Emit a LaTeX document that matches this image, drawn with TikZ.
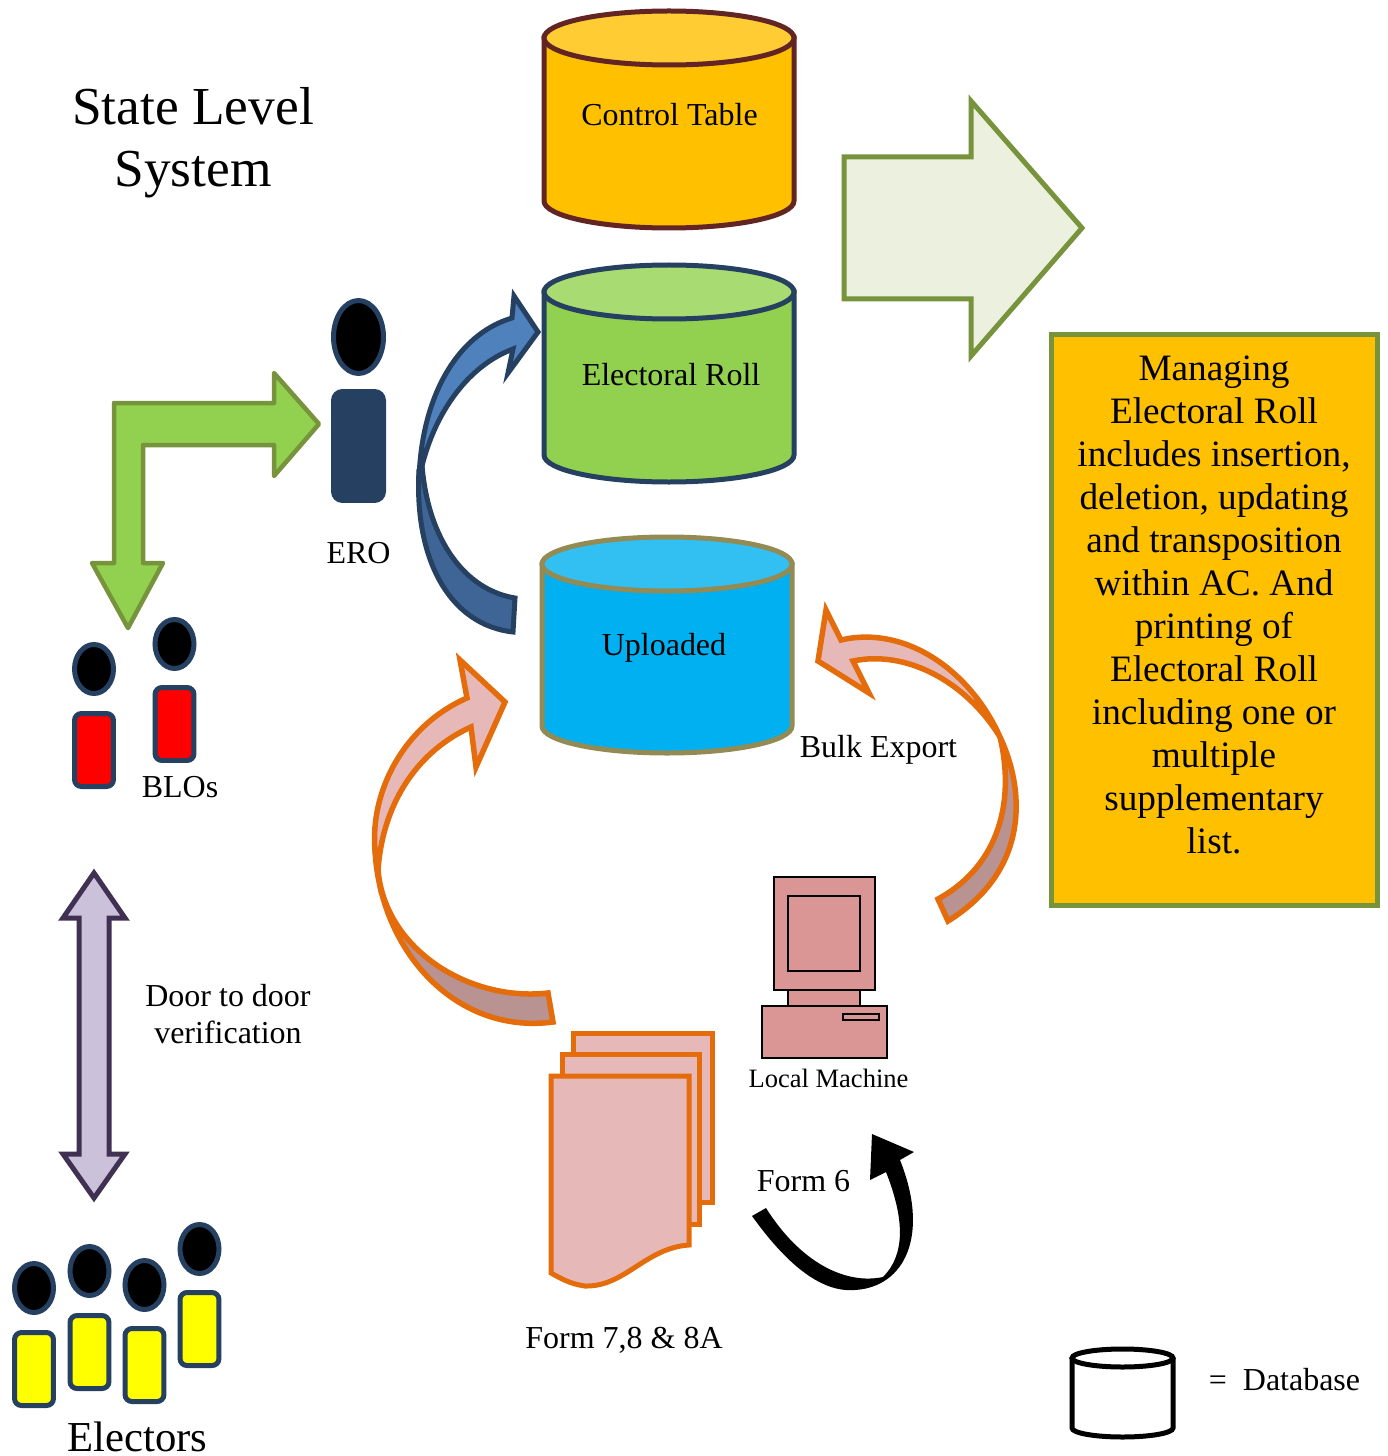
\documentclass[tikz,border=0pt]{standalone}
\usepackage{fontspec}
\setmainfont{Liberation Serif}
\usetikzlibrary{shapes.geometric}

\definecolor{NavyLine}{HTML}{254061}
\definecolor{OliveLine}{HTML}{77933C}
\definecolor{LeafGreen}{HTML}{92D050}
\definecolor{LeafTop}{HTML}{A8DC72}
\definecolor{PaleGreen}{HTML}{EBF1DE}
\definecolor{Amber}{HTML}{FFC000}
\definecolor{AmberTop}{HTML}{FFCC33}
\definecolor{MaroonLine}{HTML}{632523}
\definecolor{SkyBlue}{HTML}{00B0F0}
\definecolor{SkyTop}{HTML}{32C0F3}
\definecolor{KhakiLine}{HTML}{948A54}
\definecolor{LilacFill}{HTML}{CCC1DA}
\definecolor{LilacLine}{HTML}{403152}
\definecolor{BlueLight}{HTML}{4F81BD}
\definecolor{BlueDark}{HTML}{3E6596}
\definecolor{OrangeLine}{HTML}{E46C0A}
\definecolor{PinkFill}{HTML}{E6B9B8}
\definecolor{PinkDark}{HTML}{B89391}
\definecolor{MachinePink}{HTML}{D99694}
\definecolor{ElectorYellow}{HTML}{FFFF00}
\definecolor{BloRed}{HTML}{FF0000}

\tikzset{
	personhead/.style={draw=NavyLine, ellipse, line width=0.1cm, fill=black, minimum width=0.78cm, minimum height=0.98cm, inner sep=0pt},
	persontorso/.style={draw=NavyLine, rectangle, rounded corners=0.14cm, line width=0.1cm, minimum width=0.78cm, minimum height=1.46cm, inner sep=0pt},
	textlabel/.style={inner sep=0pt, anchor=base, font=\fontsize{18.2}{21}\selectfont},
	blockarrow/.style={line width=0.09cm, line join=round},
	orangearrow/.style={draw=OrangeLine, line width=0.11cm, line join=miter},
	bluearrow/.style={draw=NavyLine, line width=0.1cm, line join=miter},
	machinepart/.style={draw=black, line width=0.05cm, fill=MachinePink},
	formpage/.style={draw=OrangeLine, line width=0.1cm, fill=PinkFill},
}

\newcommand{\dbcylinder}[7]{
	\draw[draw=#7, line width=0.1cm, fill=#5] (#1,#3) -- (#1,#4) arc[start angle=180, end angle=360, x radius={(#2-#1)/2}, y radius=-27] -- (#2,#3) -- cycle;
	\draw[draw=#7, line width=0.1cm, fill=#6] ({(#1+#2)/2},#3) ellipse[x radius={(#2-#1)/2}, y radius=27];
}

\begin{document}
\begin{tikzpicture}[x=0.02cm, y=-0.02cm]
	\useasboundingbox (0,0) rectangle (1387,1456);

	\node[inner sep=0pt, align=center, font=\fontsize{30.4}{35.2}\selectfont] (title) at (193,143) {State Level\\System};

	\dbcylinder{544}{794}{38}{201}{Amber}{AmberTop}{MaroonLine}
	\dbcylinder{544}{794}{292}{455}{LeafGreen}{LeafTop}{NavyLine}
	\dbcylinder{542}{792}{564}{726}{SkyBlue}{SkyTop}{KhakiLine}

	\node[textlabel] (control) at (669.5,126) {Control Table};
	\node[textlabel] (roll) at (671,385) {Electoral Roll};
	\node[textlabel] (uploaded) at (664,655) {Uploaded};

	\draw[draw=OliveLine, line width=0.1cm, fill=PaleGreen] (844,157) -- (971,157) -- (971,101) -- (1082,228) -- (971,356) -- (971,299) -- (844,299) -- cycle;
	\node[draw=OliveLine, line width=0.1cm, fill=Amber, rectangle, minimum width=6.54cm, minimum height=11.44cm, inner sep=0pt] (managebox) at (1214.5,620) {};
	\node[inner sep=0pt, align=center, font=\fontsize{21.2}{24.5}\selectfont] (managetext) at (1214,605) {Managing\\Electoral Roll\\includes insertion,\\deletion, updating\\and transposition\\within AC. And\\printing of\\Electoral Roll\\including one or\\multiple\\supplementary\\list.};

	\node[personhead, minimum width=1.0cm, minimum height=1.46cm] (erohead) at (358.5,337) {};
	\node[persontorso, fill=NavyLine, minimum width=1.0cm, minimum height=2.18cm, rounded corners=0.18cm] (erobody) at (358.5,446) {};
	\node[textlabel] (ero) at (358.5,563) {ERO};

	\draw[blockarrow, draw=OliveLine, fill=LeafGreen] (114,403) -- (274,403) -- (274,373) -- (319,424) -- (274,476) -- (274,445) -- (143,445) -- (143,563) -- (163,563) -- (128,628) -- (92,563) -- (114,563) -- cycle;

	\node[personhead] (blohead1) at (94,669) {};
	\node[persontorso, fill=BloRed] (blobody1) at (94,750) {};
	\node[personhead] (blohead2) at (174.5,644) {};
	\node[persontorso, fill=BloRed] (blobody2) at (174.5,724) {};
	\node[textlabel] (blos) at (180,797) {BLOs};

	\draw[draw=LilacLine, line width=0.1cm, fill=LilacFill] (94,873) -- (125,918) -- (109,918) -- (109,1154) -- (125,1154) -- (94,1198) -- (63,1154) -- (79,1154) -- (79,918) -- (63,918) -- cycle;
	\node[inner sep=0pt, align=center, font=\fontsize{18.2}{21}\selectfont] (door) at (228,1014) {Door to door\\verification};

	\node[personhead] (elhead1) at (34,1288) {};
	\node[persontorso, fill=ElectorYellow] (elbody1) at (34,1369) {};
	\node[personhead] (elhead2) at (89.5,1271) {};
	\node[persontorso, fill=ElectorYellow] (elbody2) at (89.5,1352) {};
	\node[personhead] (elhead3) at (144.5,1285) {};
	\node[persontorso, fill=ElectorYellow] (elbody3) at (144.5,1365) {};
	\node[personhead] (elhead4) at (199.5,1249) {};
	\node[persontorso, fill=ElectorYellow] (elbody4) at (199.5,1329) {};
	\node[textlabel, font=\fontsize{24.3}{28}\selectfont] (electors) at (137.5,1451) {Electors};

	\draw[bluearrow, fill=BlueDark] (419,470) .. controls (414,560) and (450,625) .. (513,632) -- (515,598) .. controls (465,590) and (428,540) .. (422,465) -- cycle;
	\draw[bluearrow, fill=BlueLight] (419,480) .. controls (421,400) and (455,335) .. (512,318) -- (514,296) -- (538,332) -- (508,373) -- (513,349) .. controls (470,365) and (435,410) .. (421,470) -- cycle;

	\draw[orangearrow, fill=PinkDark] (375,850) .. controls (380,950) and (455,1035) .. (553,1022) -- (548,993) .. controls (470,1002) and (385,950) .. (378,870) -- cycle;
	\draw[orangearrow, fill=PinkFill] (375,850) .. controls (370,790) and (405,725) .. (467,698) -- (460,660) -- (505,702) -- (476,767) -- (471,727) .. controls (420,750) and (383,800) .. (378,870) -- cycle;

	\draw[orangearrow, fill=PinkDark] (1000,737) .. controls (1025,790) and (1030,870) .. (948,921) -- (938,899) .. controls (1000,865) and (1015,800) .. (1000,737) -- cycle;
	\draw[orangearrow, fill=PinkFill] (1000,737) .. controls (970,670) and (905,625) .. (841,640) -- (826,610) -- (818,661) -- (869,693) -- (853,661) .. controls (905,650) and (965,680) .. (1000,737) -- cycle;
	\node[textlabel] (bulk) at (878.5,757) {Bulk Export};

	\draw[machinepart] (774,877) rectangle (875,990);
	\draw[machinepart] (788,896) rectangle (860,971);
	\draw[machinepart] (788,990) rectangle (860,1006);
	\draw[machinepart] (762,1006) rectangle (887,1058);
	\draw[machinepart] (843,1014) rectangle (879,1020);
	\node[textlabel, font=\fontsize{15.1}{18}\selectfont] (machinelabel) at (828.5,1087) {Local Machine};

	\draw[formpage] (573,1033) rectangle (712,1202);
	\draw[formpage] (562,1054) rectangle (699,1224);
	\draw[formpage] (551,1076) -- (689,1076) -- (689,1245) .. controls (645,1248) and (625,1287) .. (585,1286) .. controls (570,1284) and (560,1278) .. (551,1273) -- cycle;
	\node[textlabel] (formseven) at (624,1348) {Form 7,8 \& 8A};

	\fill[black] (752,1216) .. controls (785,1262) and (820,1293) .. (855,1290) .. controls (905,1287) and (930,1235) .. (900,1160) -- (914,1152) -- (872,1134) -- (870,1180) -- (886,1172) .. controls (905,1220) and (905,1255) .. (883,1277) .. controls (845,1285) and (800,1262) .. (766,1208) -- cycle;
	\node[textlabel] (formsix) at (803.5,1191) {Form 6};

	\draw[draw=black, line width=0.1cm, fill=white] (1072,1358) -- (1072,1428) arc[start angle=180, end angle=360, x radius=50.5, y radius=-9] -- (1173,1358);
	\draw[draw=black, line width=0.1cm, fill=white] (1122.5,1358) ellipse[x radius=50.5, y radius=9];
	\node[textlabel] (legend) at (1284.5,1390) {=\hspace{0.5em}Database};
\end{tikzpicture}
\end{document}
